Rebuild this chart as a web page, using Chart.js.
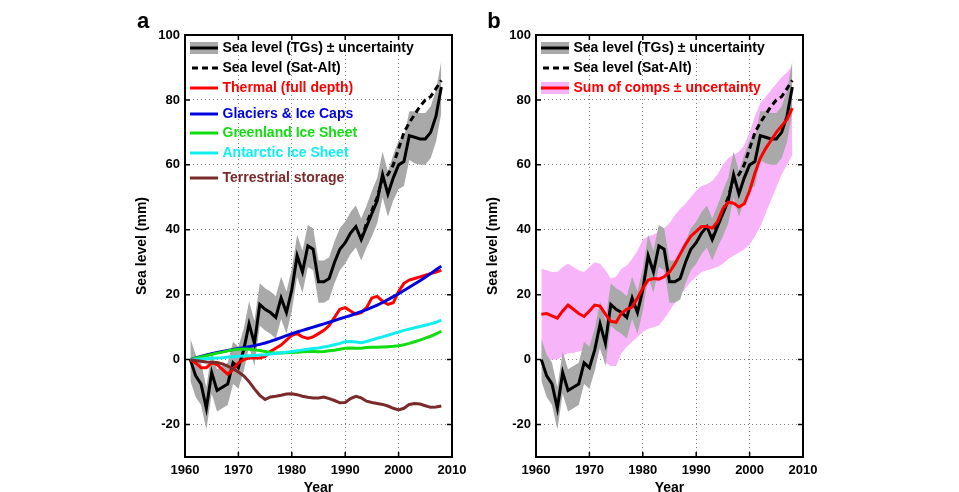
<!DOCTYPE html>
<html>
<head>
<meta charset="utf-8">
<script src="https://cdn.jsdelivr.net/npm/chart.js@4.4.1/dist/chart.umd.min.js"></script>
<style>
html, body { margin: 0; padding: 0; background: #fff; overflow: hidden; width: 959px; height: 492px; }
canvas { position: absolute; top: 0; }
#chartA { left: 0; }
#chartB { left: 351px; }
</style>
</head>
<body>
<canvas id="chartA" width="480" height="500"></canvas>
<canvas id="chartB" width="480" height="500"></canvas>
<script>
// DATA (mm, annual)
const years = [1961, 1962, 1963, 1964, 1965, 1966, 1967, 1968, 1969, 1970,
    1971, 1972, 1973, 1974, 1975, 1976, 1977, 1978, 1979, 1980,
    1981, 1982, 1983, 1984, 1985, 1986, 1987, 1988, 1989, 1990,
    1991, 1992, 1993, 1994, 1995, 1996, 1997, 1998, 1999, 2000,
    2001, 2002, 2003, 2004, 2005, 2006, 2007, 2008]

const tgLevel = [0, -5, -7.5, -15, -4, -9.5, -8.5, -7.5, -1, -2.5,
    3, 11, 5, 17, 15.5, 14.5, 13, 19, 14.5, 21.5,
    32, 27, 35, 34, 24, 24, 25, 30, 34, 36,
    39, 41, 37, 41, 45, 49, 57, 51, 56, 60,
    61, 69, 68.5, 68, 68, 70, 75, 84]

const tgUnc = [6.5, 6.5, 6.5, 6.5, 6.5, 6.5, 6.5, 6.5, 6.5, 6.5,
    6.5, 7, 7, 6.5, 6.5, 6.5, 6.5, 6.5, 6.5, 6.5,
    6.5, 6.5, 6.5, 6.5, 6.5, 6.5, 6.5, 6.5, 6.5, 6.5,
    6.5, 6.5, 6.5, 6.5, 7, 7, 7, 7, 7, 7.5,
    7.5, 7.5, 8, 8, 8, 8, 8, 8]

const satYears = [1993, 1994, 1995, 1996, 1997, 1998, 1999, 2000,
    2001, 2002, 2003, 2004, 2005, 2006, 2007, 2008]
const satLevel = [37, 42, 46, 50, 56, 57, 60, 65, 70, 73, 75.5, 78, 80, 81, 83.5, 86]

const thermal = [0, -1, -2.5, -2.5, -1, -1.5, -3, -4.5, -3, -1,
    0, 0.5, 0.5, 0.5, 1, 2.5, 3.5, 4.5, 6, 7.5,
    8, 7, 6.5, 7, 8, 9, 10.5, 13, 15.5, 16,
    15, 14, 14.5, 16, 19, 19.5, 18, 17, 17.5, 21,
    23.5, 24.5, 25, 25.5, 26, 26.5, 27, 27.5]

const glaciers = [0, 0.5, 1, 1.4, 1.8, 2.2, 2.5, 2.8, 3.1, 3.4,
    3.7, 4, 4.3, 4.7, 5.1, 5.6, 6.2, 6.8, 7.4, 8,
    8.5, 9, 9.5, 10, 10.5, 11, 11.5, 12, 12.6, 13.1,
    13.6, 14.2, 14.8, 15.4, 16.1, 16.8, 17.6, 18.5, 19.4, 20.3,
    21.3, 22.3, 23.3, 24.3, 25.4, 26.5, 27.7, 28.8]

const greenland = [0, 0.4, 0.8, 1.2, 1.6, 2, 2.3, 2.7, 3, 3.2,
    3.3, 3.2, 3, 2.8, 2.5, 2.2, 2, 2, 2.1, 2.2,
    2.3, 2.4, 2.5, 2.5, 2.4, 2.5, 2.7, 2.9, 3.2, 3.5,
    3.6, 3.5, 3.5, 3.7, 3.8, 3.8, 3.9, 4, 4.1, 4.3,
    4.6, 5, 5.5, 6, 6.6, 7.2, 7.9, 8.7]

const antarctic = [0, 0.1, 0.2, 0.3, 0.4, 0.5, 0.6, 0.8, 0.9, 1,
    1.1, 1.2, 1.3, 1.4, 1.5, 1.7, 1.9, 2.1, 2.3, 2.5,
    2.7, 3, 3.2, 3.4, 3.6, 3.9, 4.2, 4.6, 5, 5.5,
    5.6, 5.4, 5.2, 5.6, 6.1, 6.6, 7, 7.5, 8, 8.5,
    9, 9.4, 9.8, 10.2, 10.6, 11, 11.5, 12.2]

const terrestrial = [0, -0.3, -0.5, -0.7, -0.8, -0.9, -1.3, -2, -2.8, -3.8,
    -5, -6.8, -9, -11, -12.3, -11.5, -11.3, -11, -10.6, -10.5,
    -10.8, -11.3, -11.6, -11.8, -11.8, -11.5, -12, -12.6, -13.3, -13.2,
    -12, -11.3, -11.8, -12.8, -13.2, -13.5, -13.8, -14.3, -15, -15.5,
    -15, -13.8, -13.5, -13.7, -14.2, -14.7, -14.6, -14.3]

const sumComps = [14, 14.2, 13.5, 12.8, 15, 16.8, 15.5, 14.2, 13.3, 15,
    16.8, 16.5, 14, 11.8, 11.5, 14.3, 15.5, 16.2, 19, 22,
    24.5, 25, 24.8, 25.5, 27, 29.5, 32.5, 35.5, 38, 39.5,
    41, 41, 40.5, 42.5, 46.5, 48.5, 48.2, 47, 48, 52,
    57.5, 62, 65, 67.5, 70, 72, 74, 77.5]

const sumLow = [-0.5, -0.5, 0, 0, 1, 2, 2, 2.5, 3, 4,
    5, 3, -1, -2, -2, 2, 4, 5.5, 7, 8.5,
    9.5, 10, 10.5, 12.5, 15, 17.5, 20, 22, 24, 25.5,
    27, 27.5, 28, 28.5, 29.5, 31, 32, 33, 34, 35.5,
    38, 41, 45, 49, 53, 57, 60, 63]

const sumHigh = [28, 27.5, 27, 27, 28.5, 29.5, 28.5, 27.5, 27, 28.5,
    30, 29.5, 27.5, 25, 25.5, 28, 29, 31, 33.5, 37,
    38, 38.5, 39.5, 40.5, 42, 44.5, 46.5, 48, 50, 52,
    53.5, 54, 55, 57, 60, 62, 63, 64, 66, 70,
    75, 79, 81, 83, 85, 87, 88.5, 90.5]

const xTicks = [1960, 1970, 1980, 1990, 2000, 2010]
const yTicks = [-20, 0, 20, 40, 60, 80, 100]

const GRAY = "#a9a9a9"
const PINK = "#f8b4f8"
const FONT = "'Liberation Sans', Arial, sans-serif"


function pts(xs, ys) {
    return xs.map((x, i) => ({ x: x, y: ys[i] }))
}

function line(label, xs, ys, color, order, dash) {
    return {
        label: label,
        data: pts(xs, ys),
        borderColor: color,
        borderWidth: 3,
        borderDash: dash || [],
        pointRadius: 0,
        tension: 0,
        fill: false,
        order: order
    }
}

// upper edge fills down to the next dataset (lower edge)
function band(xs, hi, lo, color, order) {
    return [{
            label: "hi",
            data: pts(xs, hi),
            borderWidth: 0,
            pointRadius: 0,
            tension: 0,
            backgroundColor: color,
            fill: "+1",
            order: order
        },
        {
            label: "lo",
            data: pts(xs, lo),
            borderWidth: 0,
            pointRadius: 0,
            tension: 0,
            fill: false,
            order: order
        }
    ]
}


//FRAME, INWARD TICKS, LETTER, LEGEND
const panelDeco = {
    id: "panelDeco",
    afterDraw(chart, args, opts) {
        const ctx = chart.ctx
        const a = chart.chartArea
        const xs = chart.scales.x
        const ys = chart.scales.y
        ctx.save()
        ctx.strokeStyle = "#000"
        ctx.lineWidth = 2
        ctx.strokeRect(a.left, a.top, a.right - a.left, a.bottom - a.top)
        ctx.lineWidth = 1.5
        ctx.beginPath()
        xTicks.forEach(v => {
            const p = xs.getPixelForValue(v)
            ctx.moveTo(p, a.bottom); ctx.lineTo(p, a.bottom - 5)
            ctx.moveTo(p, a.top); ctx.lineTo(p, a.top + 5)
        })
        yTicks.forEach(v => {
            const p = ys.getPixelForValue(v)
            ctx.moveTo(a.left, p); ctx.lineTo(a.left + 5, p)
            ctx.moveTo(a.right, p); ctx.lineTo(a.right - 5, p)
        })
        ctx.stroke()

        // panel letter
        ctx.fillStyle = "#000"
        ctx.font = "bold 22px " + FONT
        ctx.textAlign = "center"
        ctx.textBaseline = "middle"
        ctx.fillText(opts.letter, 143, 22)

        // legend
        ctx.font = "bold 14px " + FONT
        ctx.textAlign = "left"
        opts.items.forEach((it, i) => {
            const y = opts.rows[i]
            if (it.band) {
                ctx.fillStyle = it.band
                ctx.fillRect(190, y - 6, 28, 12)
            }
            ctx.strokeStyle = it.color
            ctx.lineWidth = 3
            ctx.setLineDash(it.dash ? [6, 4] : [])
            ctx.beginPath()
            ctx.moveTo(it.dash ? 192 : 190, y)
            ctx.lineTo(218, y)
            ctx.stroke()
            ctx.setLineDash([])
            ctx.fillStyle = it.textColor || it.color
            ctx.fillText(it.text, 222.5, y + 0.5)
        })
        ctx.restore()
    }
}


function makeOptions(deco) {
    const tickFont = { family: FONT, size: 13, weight: "bold" }
    const titleFont = { family: FONT, size: 14, weight: "bold" }
    return {
        responsive: false,
        animation: false,
        layout: { padding: { left: 130, top: 35, right: 28, bottom: 0 } },
        plugins: {
            legend: { display: false },
            tooltip: { enabled: false },
            panelDeco: deco
        },
        scales: {
            x: {
                type: "linear",
                min: 1960,
                max: 2010,
                afterBuildTicks: s => { s.ticks = xTicks.map(v => ({ value: v })) },
                afterFit: s => {
                    s.height = 43
                    s.paddingLeft = 0; s.paddingRight = 0
                },
                grid: { color: "rgba(0,0,0,0.5)", lineWidth: 1, drawTicks: false },
                border: { display: false, dash: [1, 3] },
                ticks: { padding: 6, color: "#000", font: tickFont, callback: v => String(v) },
                title: { display: true, text: "Year", color: "#000", font: titleFont, padding: { top: 0, bottom: 3 } }
            },
            y: {
                type: "linear",
                min: -30,
                max: 100,
                afterBuildTicks: s => { s.ticks = yTicks.map(v => ({ value: v })) },
                afterFit: s => {
                    s.width = 55
                    s.paddingTop = 0; s.paddingBottom = 0
                },
                grid: { color: "rgba(0,0,0,0.5)", lineWidth: 1, drawTicks: false },
                border: { display: false, dash: [1, 3] },
                ticks: { padding: 5, color: "#000", font: tickFont, callback: v => String(v) },
                title: { display: true, text: "Sea level (mm)", color: "#000", font: titleFont, padding: { top: 4, bottom: 0 } }
            }
        }
    }
}


// Panel a
new Chart(document.getElementById("chartA"), {
    type: "line",
    data: {
        datasets: [
            ...band(years, tgLevel.map((v, i) => v + tgUnc[i]), tgLevel.map((v, i) => v - tgUnc[i]), GRAY, 20),
            line("Sea level (TGs)", years, tgLevel, "#000", 12),
            line("Sea level (Sat-Alt)", satYears, satLevel, "#000", 11, [6, 4]),
            line("Thermal (full depth)", years, thermal, "#ff0000", 5),
            line("Glaciers & Ice Caps", years, glaciers, "#0000dd", 4),
            line("Greenland Ice Sheet", years, greenland, "#11dd11", 3),
            line("Antarctic Ice Sheet", years, antarctic, "#11eeee", 2),
            line("Terrestrial storage", years, terrestrial, "#7a2a2a", 1)
        ]
    },
    options: makeOptions({
        letter: "a",
        rows: [48, 68, 88, 114, 133, 153, 178],
        items: [
            { text: "Sea level (TGs) \u00b1 uncertainty", color: "#000", band: GRAY },
            { text: "Sea level (Sat-Alt)", color: "#000", dash: true },
            { text: "Thermal (full depth)", color: "#ff0000" },
            { text: "Glaciers & Ice Caps", color: "#0000dd" },
            { text: "Greenland Ice Sheet", color: "#11dd11" },
            { text: "Antarctic Ice Sheet", color: "#11eeee" },
            { text: "Terrestrial storage", color: "#7a2a2a" }
        ]
    }),
    plugins: [panelDeco]
})

// Panel b
new Chart(document.getElementById("chartB"), {
    type: "line",
    data: {
        datasets: [
            ...band(years, sumHigh, sumLow, PINK, 30),
            ...band(years, tgLevel.map((v, i) => v + tgUnc[i]), tgLevel.map((v, i) => v - tgUnc[i]), GRAY, 20),
            line("Sea level (TGs)", years, tgLevel, "#000", 12),
            line("Sea level (Sat-Alt)", satYears, satLevel, "#000", 11, [6, 4]),
            line("Sum of comps", years, sumComps, "#ff0000", 1)
        ]
    },
    options: makeOptions({
        letter: "b",
        rows: [48, 68, 88],
        items: [
            { text: "Sea level (TGs) \u00b1 uncertainty", color: "#000", band: GRAY },
            { text: "Sea level (Sat-Alt)", color: "#000", dash: true },
            { text: "Sum of comps \u00b1 uncertainty", color: "#ff0000", band: PINK }
        ]
    }),
    plugins: [panelDeco]
})
</script>
</body>
</html>
